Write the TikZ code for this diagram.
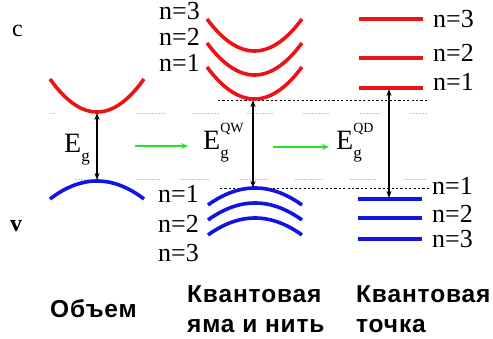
\documentclass[tikz,border=0pt]{standalone}
\usepackage{fontspec}
\setmainfont{Liberation Serif}
\newfontfamily\capfont[LetterSpace=3.5]{Liberation Sans}
\usetikzlibrary{arrows.meta}

\definecolor{cbandred}{RGB}{235,20,20}
\definecolor{vbandblue}{RGB}{20,20,225}
\definecolor{stepgreen}{RGB}{40,225,40}

% E_g with a superscript tag stacked over the subscript g
\newcommand\gapsym[1]{E\makebox[0pt][l]{\raisebox{-0.30em}{\fontsize{17}{17}\selectfont g}}\raisebox{0.62em}{\fontsize{14}{14}\selectfont #1}}

\tikzset{
  cband/.style={draw=cbandred, line width=3.6pt},
  vband/.style={draw=vbandblue, line width=3.6pt},
  gaparrow/.style={draw=black, line width=1.3pt, {Stealth[length=7pt,width=5pt]}-{Stealth[length=7pt,width=5pt]}},
  steparrow/.style={draw=stepgreen, line width=2pt, -{Stealth[length=7pt,width=6pt]}},
  edgeline/.style={draw=black, line width=0.9pt, dash pattern=on 2.2pt off 2.2pt},
  faintline/.style={draw=gray!45, line width=0.8pt, dash pattern=on 1.5pt off 1.5pt},
  lvl/.style={font=\fontsize{26}{26}\selectfont, inner sep=0pt},
  bandname/.style={font=\fontsize{24}{24}\selectfont, inner sep=0pt, anchor=base west},
  gaplbl/.style={font=\fontsize{28}{28}\selectfont, inner sep=0pt, anchor=base west},
  caption/.style={font=\capfont\bfseries\fontsize{24.5}{24.5}\selectfont, inner sep=0pt, anchor=base west},
}

\begin{document}
\begin{tikzpicture}[x=1pt,y=-1pt]
\useasboundingbox (0,0) rectangle (493,339);

% faint reference levels at the bulk band edges
\foreach \a/\b in {50/56,137/165,193/220,247/273,303/330,360/380,410/427}
  \draw[faintline] (\a,113) -- (\b,113);
\foreach \a/\b in {75/95,137/160,180/210,240/270,295/323,350/377,403/427}
  \draw[faintline] (\a,179) -- (\b,179);

% confined band edges
\coordinate (ctopL) at (218,100);
\coordinate (ctopR) at (428,100);
\coordinate (vtopL) at (220,188);
\coordinate (vtopR) at (430,188);
\draw[edgeline] (ctopL) -- (ctopR);
\draw[edgeline] (vtopL) -- (vtopR);

% band letters
\node[bandname] (cname) at (12,37) {c};
\node[bandname] (vname) at (10,232) {\textbf{v}};

% bulk bands
\draw[cband] plot[domain=-1:1,samples=40,smooth] ({97+47*\x},{112-33*\x*\x});
\draw[vband] plot[domain=-1:1,samples=40,smooth] ({97+47*\x},{181+18*\x*\x});
\coordinate (bulkC) at (97,113);
\coordinate (bulkV) at (97,180);
\draw[gaparrow] (bulkC) -- (bulkV);
\node[gaplbl] (egbulk) at (64,153) {E\raisebox{-0.32em}{\fontsize{17}{17}\selectfont g}};

% quantum well / wire subbands
\foreach \dy in {0,-24,-48}
  \draw[cband] plot[domain=-1:1,samples=40,smooth] ({254.5+47.5*\x},{\dy+99-32*\x*\x});
\foreach \dy in {0,15,30}
  \draw[vband] plot[domain=-1:1,samples=40,smooth] ({255+47*\x},{\dy+188+17*\x*\x});
\coordinate (qwC) at (253,100);
\coordinate (qwV) at (253,188);
\draw[gaparrow] (qwC) -- (qwV);
\node[gaplbl] (egqw) at (203,150) {\gapsym{QW}};

\node[lvl, anchor=base east] (qwc3) at (200,20) {n=3};
\node[lvl, anchor=base east] (qwc2) at (200,46) {n=2};
\node[lvl, anchor=base east] (qwc1) at (200,72) {n=1};
\node[lvl, anchor=base east] (qwv1) at (199,203) {n=1};
\node[lvl, anchor=base east] (qwv2) at (199,233) {n=2};
\node[lvl, anchor=base east] (qwv3) at (199,262) {n=3};

% quantum dot levels
\foreach \y/\nm in {19/qdc3,58/qdc2,88/qdc1}{
  \coordinate (\nm L) at (359,\y);
  \coordinate (\nm R) at (423,\y);
  \draw[cband] (\nm L) -- (\nm R);
}
\foreach \y/\nm in {199/qdv1,218/qdv2,239/qdv3}{
  \coordinate (\nm L) at (358,\y);
  \coordinate (\nm R) at (422,\y);
  \draw[vband] (\nm L) -- (\nm R);
}
\coordinate (qdC) at (389,89);
\coordinate (qdV) at (389,198);
\draw[gaparrow] (qdC) -- (qdV);
\node[gaplbl] (egqd) at (336,150) {\gapsym{QD}};

\node[lvl, anchor=base west] (qdc3n) at (433,28) {n=3};
\node[lvl, anchor=base west] (qdc2n) at (433,62) {n=2};
\node[lvl, anchor=base west] (qdc1n) at (433,91) {n=1};
\node[lvl, anchor=base west] (qdv1n) at (432,195) {n=1};
\node[lvl, anchor=base west] (qdv2n) at (432,223) {n=2};
\node[lvl, anchor=base west] (qdv3n) at (432,248) {n=3};

% size-reduction steps
\coordinate (s1a) at (135,146);
\coordinate (s1b) at (188,146);
\coordinate (s2a) at (273,147);
\coordinate (s2b) at (329,147);
\draw[steparrow] (s1a) -- (s1b);
\draw[steparrow] (s2a) -- (s2b);

% captions
\node[caption] (capbulk) at (50,317) {Объем};
\node[caption] (capqw1) at (187,302) {Квантовая};
\node[caption] (capqw2) at (187,333) {яма и нить};
\node[caption] (capqd1) at (356,302) {Квантовая};
\node[caption] (capqd2) at (356,333) {точка};
\end{tikzpicture}
\end{document}
